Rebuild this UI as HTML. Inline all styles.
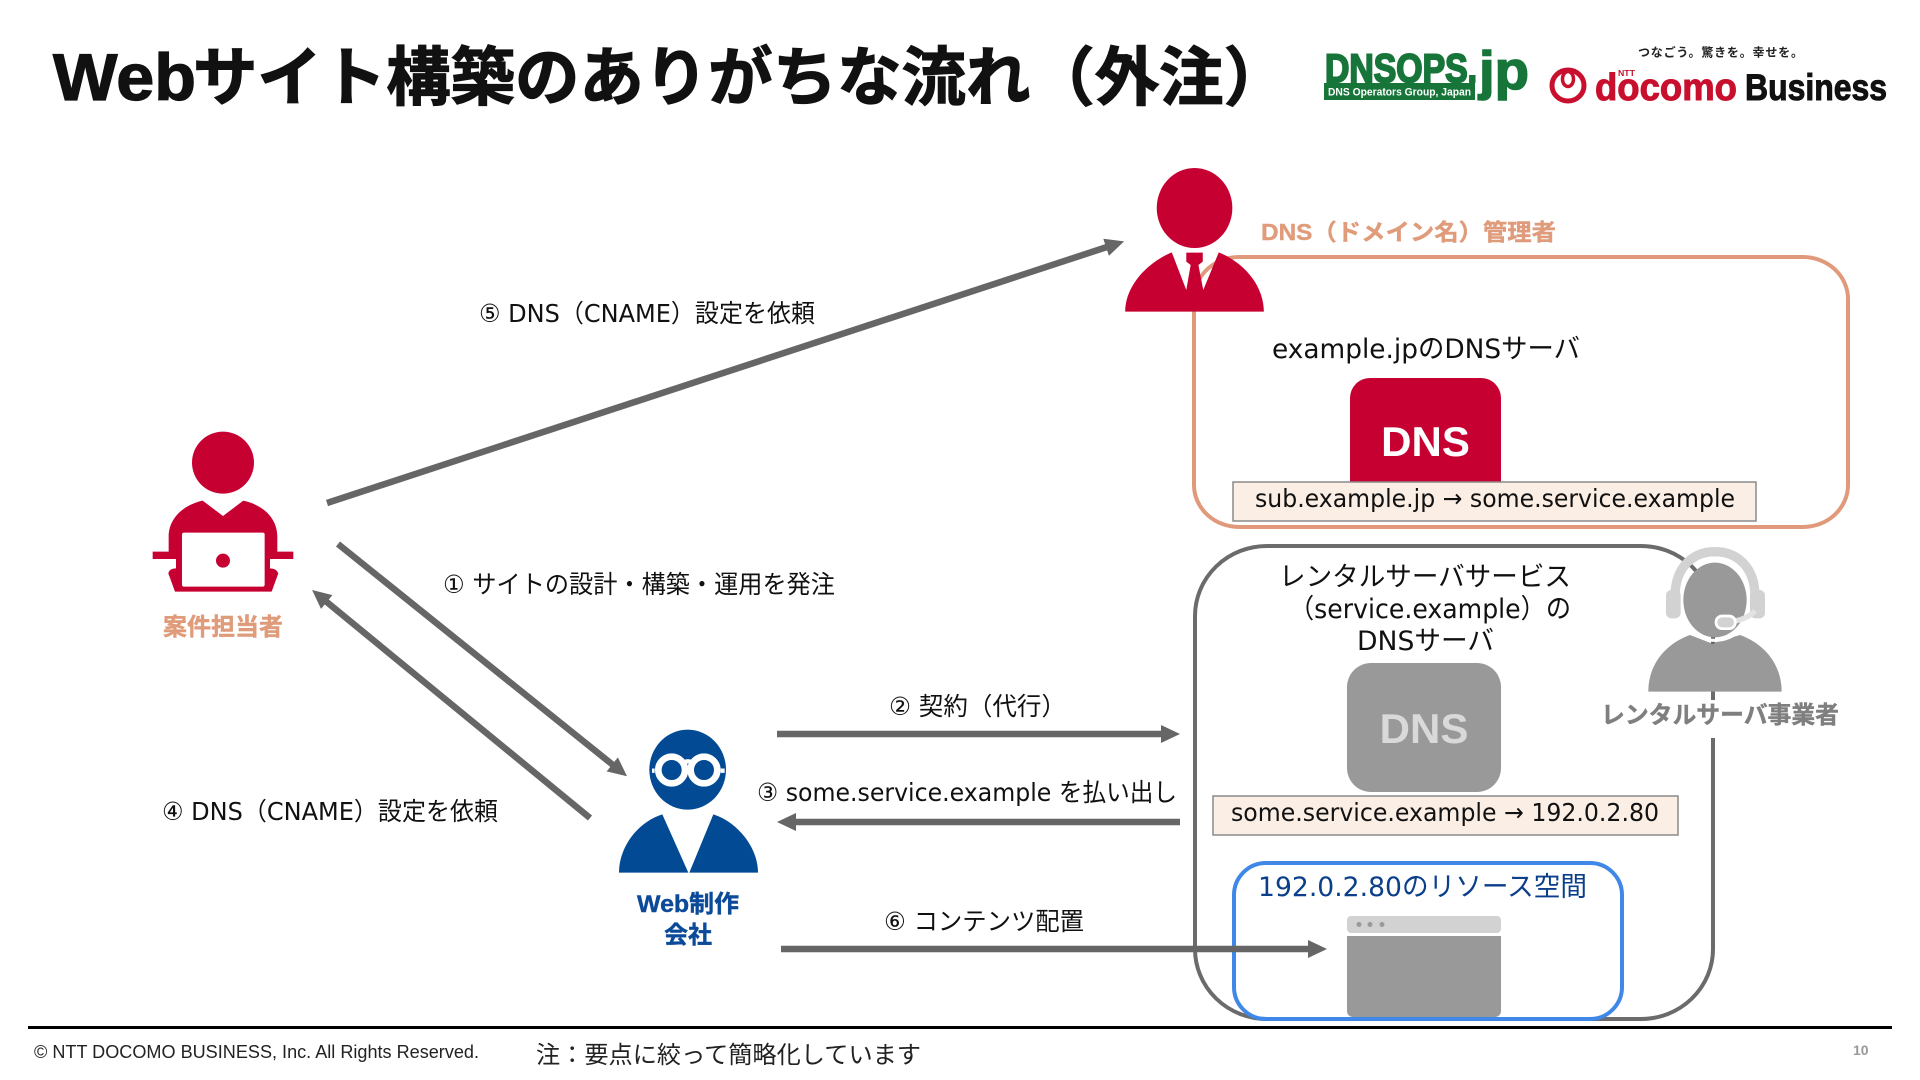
<!DOCTYPE html>
<html lang="ja"><head><meta charset="utf-8"><title>Webサイト構築のありがちな流れ（外注）</title>
<style>
html,body{margin:0;padding:0;background:#fff;width:1920px;height:1080px;overflow:hidden}
svg{display:block}
text{font-family:"Liberation Sans","Noto Sans CJK JP",sans-serif}
.m{font-family:"DejaVu Sans","Noto Sans CJK JP",sans-serif;font-size:27px;fill:#111}
.l{font-family:"DejaVu Sans","Noto Sans CJK JP",sans-serif;font-size:25px;fill:#111}
.b{font-family:"Liberation Sans","Noto Sans CJK JP",sans-serif;font-weight:700}
</style></head><body>
<svg width="1920" height="1080" viewBox="0 0 1920 1080" xmlns="http://www.w3.org/2000/svg">
<defs>
<marker id="a" markerUnits="userSpaceOnUse" markerWidth="20" markerHeight="18" refX="1" refY="9" orient="auto"><path d="M0,0L19,9L0,18Z" fill="#666"/></marker>
</defs>
<rect width="1920" height="1080" fill="#fff"/>

<!-- title -->
<text class="b" x="53" y="100" font-size="66" fill="#111" stroke="#111" stroke-width="1.2" textLength="143" lengthAdjust="spacingAndGlyphs">Web</text>
<text class="b" x="193" y="100" font-size="64" fill="#111" stroke="#111" stroke-width="1.2" textLength="1095" lengthAdjust="spacingAndGlyphs">サイト構築のありがちな流れ（外注）</text>

<!-- DNSOPS logo -->
<text class="b" x="1325" y="82" font-size="40" fill="#17753a" stroke="#17753a" stroke-width="2" textLength="152" lengthAdjust="spacingAndGlyphs">DNSOPS.</text>
<text class="b" x="1479" y="89" font-size="54" fill="#17753a" stroke="#17753a" stroke-width="1.5" textLength="50" lengthAdjust="spacingAndGlyphs">jp</text>
<rect x="1324" y="83" width="151" height="17" fill="#17753a"/>
<text class="b" x="1328" y="95.5" font-size="11" fill="#fff" textLength="143" lengthAdjust="spacingAndGlyphs">DNS Operators Group, Japan</text>

<!-- docomo logo -->
<text class="b" x="1638" y="56.5" font-size="12" fill="#222" textLength="165">つなごう。驚きを。幸せを。</text>
<ellipse cx="1568" cy="85.5" rx="16" ry="15.5" fill="none" stroke="#c8102e" stroke-width="5"/>
<ellipse cx="1568" cy="79" rx="5.5" ry="7.5" fill="none" stroke="#c8102e" stroke-width="3.5"/>
<text class="b" x="1595" y="100" font-size="38" fill="#c8102e" stroke="#c8102e" stroke-width="1" textLength="142" lengthAdjust="spacingAndGlyphs">docomo</text>
<text class="b" x="1618" y="76" font-size="8" fill="#c8102e" textLength="17" lengthAdjust="spacingAndGlyphs">NTT</text>
<text class="b" x="1745" y="100" font-size="37" fill="#111" stroke="#111" stroke-width="1" textLength="142" lengthAdjust="spacingAndGlyphs">Business</text>

<!-- peach group -->
<rect x="1194" y="257" width="654" height="270" rx="45" ry="42" fill="none" stroke="#e09a7b" stroke-width="4"/>
<text class="b" x="1261" y="240" font-size="23" fill="#df9b7a" stroke="#df9b7a" stroke-width=".4" textLength="295" lengthAdjust="spacingAndGlyphs">DNS（ドメイン名）管理者</text>
<text class="m" x="1272" y="358" textLength="308" lengthAdjust="spacingAndGlyphs">example.jpのDNSサーバ</text>
<path d="M1350,482V398a20,20 0 0 1 20,-20h111a20,20 0 0 1 20,20v84z" fill="#c70032"/>
<text class="b" x="1425.5" y="456" font-size="42" fill="#fff" text-anchor="middle">DNS</text>
<rect x="1233" y="482" width="523" height="39" fill="#fbeee5" stroke="#8a8a8a" stroke-width="1.5"/>
<text class="l" x="1255" y="507" textLength="480" lengthAdjust="spacingAndGlyphs">sub.example.jp → some.service.example</text>

<!-- red man -->
<g transform="translate(1100,150) scale(.4848,.3333)">
<ellipse cx="195" cy="174" rx="78" ry="120" fill="#c70032"/>
<path d="M52,485C52,410 95,340 148,307L178,420L187,345L178,335V308H212V335L203,345L213,420L245,307C300,340 338,410 338,485Z" fill="#c70032"/>
</g>

<!-- gray group -->
<rect x="1195" y="546" width="518" height="473" rx="72" ry="70" fill="none" stroke="#6b6b6b" stroke-width="4"/>
<rect x="1695" y="700" width="36" height="38" fill="#fff"/>
<text class="m" x="1425" y="586" text-anchor="middle" textLength="292" lengthAdjust="spacingAndGlyphs">レンタルサーバサービス</text>
<text class="m" x="1289" y="618" textLength="282" lengthAdjust="spacingAndGlyphs">（service.example）の</text>
<text class="m" x="1357" y="650" textLength="137" lengthAdjust="spacingAndGlyphs">DNSサーバ</text>
<rect x="1347" y="663" width="154" height="129" rx="24" fill="#999"/>
<text class="b" x="1424" y="743" font-size="42" fill="#d9d9d9" text-anchor="middle">DNS</text>
<rect x="1213" y="796" width="465" height="39" fill="#fbeee5" stroke="#8a8a8a" stroke-width="1.5"/>
<text class="l" x="1231" y="821" textLength="428" lengthAdjust="spacingAndGlyphs">some.service.example → 192.0.2.80</text>

<!-- blue resource -->
<rect x="1347" y="916" width="154" height="17" rx="4" fill="#d2d2d2"/>
<path d="M1347,936H1501V1011a6,6 0 0 1 -6,6H1353a6,6 0 0 1 -6,-6Z" fill="#999"/>
<circle cx="1359" cy="924.5" r="2.5" fill="#999"/><circle cx="1370" cy="924.5" r="2.5" fill="#999"/><circle cx="1382" cy="924.5" r="2.5" fill="#999"/>
<rect x="1234" y="863" width="388" height="156" rx="32" fill="none" stroke="#3f88e8" stroke-width="4"/>
<text class="m" x="1258" y="896" style="fill:#0b3f8a" textLength="329" lengthAdjust="spacingAndGlyphs">192.0.2.80のリソース空間</text>

<!-- headset person -->
<g transform="translate(1640,540) scale(.3333)">
<path d="M25,455C25,370 80,310 150,285L215,310L300,285C370,310 425,370 425,455Z" fill="#999"/>
<rect x="214" y="294" width="9" height="18" fill="#666"/>
<path d="M126,205C135,270 180,301 225,301C265,301 295,282 318,250" fill="none" stroke="#fff" stroke-width="9"/>
<ellipse cx="225" cy="180" rx="95" ry="112" fill="#999"/>
<path d="M105,170C105,80 160,35 225,35C290,35 345,80 345,170" fill="none" stroke="#d2d2d2" stroke-width="28"/>
<rect x="78" y="150" width="44" height="85" rx="16" fill="#d2d2d2"/>
<rect x="330" y="150" width="45" height="85" rx="16" fill="#d2d2d2"/>
<path d="M345,212Q325,238 265,247" fill="none" stroke="#e2e2e2" stroke-width="16"/>
<rect x="224" y="224" width="66" height="46" rx="22" fill="#fff"/>
<rect x="232" y="232" width="50" height="30" rx="15" fill="#d2d2d2"/>
</g>
<text class="b" x="1601" y="723" font-size="24" fill="#7f7f7f" stroke="#7f7f7f" stroke-width=".4" textLength="238" lengthAdjust="spacingAndGlyphs">レンタルサーバ事業者</text>

<!-- left person -->
<g transform="translate(130,410) scale(.3333)">
<circle cx="279" cy="158" r="93" fill="#c70032"/>
<path d="M218,272L279,318L340,272C400,285 442,325 442,380V425H490V447H420V475Q440,475 445,490L425,545H135L115,490Q118,475 138,475V447H68V425H116V380C116,325 160,285 218,272Z" fill="#c70032"/>
<rect x="156" y="368" width="248" height="162" rx="6" fill="#fff"/>
<circle cx="279" cy="452" r="21" fill="#c70032"/>
</g>
<text class="b" x="163" y="635" font-size="24" fill="#df9b7a" stroke="#df9b7a" stroke-width=".4" textLength="120" lengthAdjust="spacingAndGlyphs">案件担当者</text>

<!-- web person -->
<g transform="translate(560,700) scale(.3333)">
<ellipse cx="383" cy="209" rx="115" ry="120" fill="#024a94"/>
<path d="M307,343L385,518H177C177,440 235,365 307,343Z" fill="#024a94"/>
<path d="M460,343L388,518H594C594,440 530,365 460,343Z" fill="#024a94"/>
<circle cx="335" cy="210" r="40" fill="#024a94" stroke="#fff" stroke-width="20"/>
<circle cx="432" cy="210" r="40" fill="#024a94" stroke="#fff" stroke-width="20"/>
<path d="M284,212H276M482,212H494M370,188Q384,180 397,188" stroke="#fff" stroke-width="13" fill="none"/>
</g>
<text class="b" x="637" y="912" font-size="24" fill="#0b4a99" stroke="#0b4a99" stroke-width=".4" textLength="102" lengthAdjust="spacingAndGlyphs">Web制作</text>
<text class="b" x="664" y="943" font-size="24" fill="#0b4a99" stroke="#0b4a99" stroke-width=".4">会社</text>

<!-- arrows -->
<g stroke="#666" stroke-width="6.5" fill="none">
<path d="M327,503L1107,247" marker-end="url(#a)"/>
<path d="M338,544L613,765" marker-end="url(#a)"/>
<path d="M590,818L326,601.4" marker-end="url(#a)"/>
<path d="M777,734H1162" marker-end="url(#a)"/>
<path d="M1180,822H795" marker-end="url(#a)"/>
<path d="M781,949H1309" marker-end="url(#a)"/>
</g>

<!-- arrow labels -->
<text class="l" x="479" y="322" textLength="336" lengthAdjust="spacingAndGlyphs">⑤ DNS（CNAME）設定を依頼</text>
<text class="l" x="443" y="593" textLength="392" lengthAdjust="spacingAndGlyphs">① サイトの設計・構築・運用を発注</text>
<text class="l" x="889" y="715" textLength="177" lengthAdjust="spacingAndGlyphs">② 契約（代行）</text>
<text class="l" x="757" y="801" textLength="420" lengthAdjust="spacingAndGlyphs">③ some.service.example を払い出し</text>
<text class="l" x="162" y="820" textLength="336" lengthAdjust="spacingAndGlyphs">④ DNS（CNAME）設定を依頼</text>
<text class="l" x="884" y="930" textLength="200" lengthAdjust="spacingAndGlyphs">⑥ コンテンツ配置</text>

<!-- footer -->
<rect x="28" y="1026" width="1864" height="3" fill="#000"/>
<text x="34" y="1058" font-size="18" fill="#222" textLength="445" lengthAdjust="spacingAndGlyphs">© NTT DOCOMO BUSINESS, Inc. All Rights Reserved.</text>
<text x="536" y="1063" font-size="24" fill="#222" textLength="385" lengthAdjust="spacingAndGlyphs">注：要点に絞って簡略化しています</text>
<text class="b" x="1853" y="1055" font-size="14" fill="#999">10</text>
</svg>
</body></html>
